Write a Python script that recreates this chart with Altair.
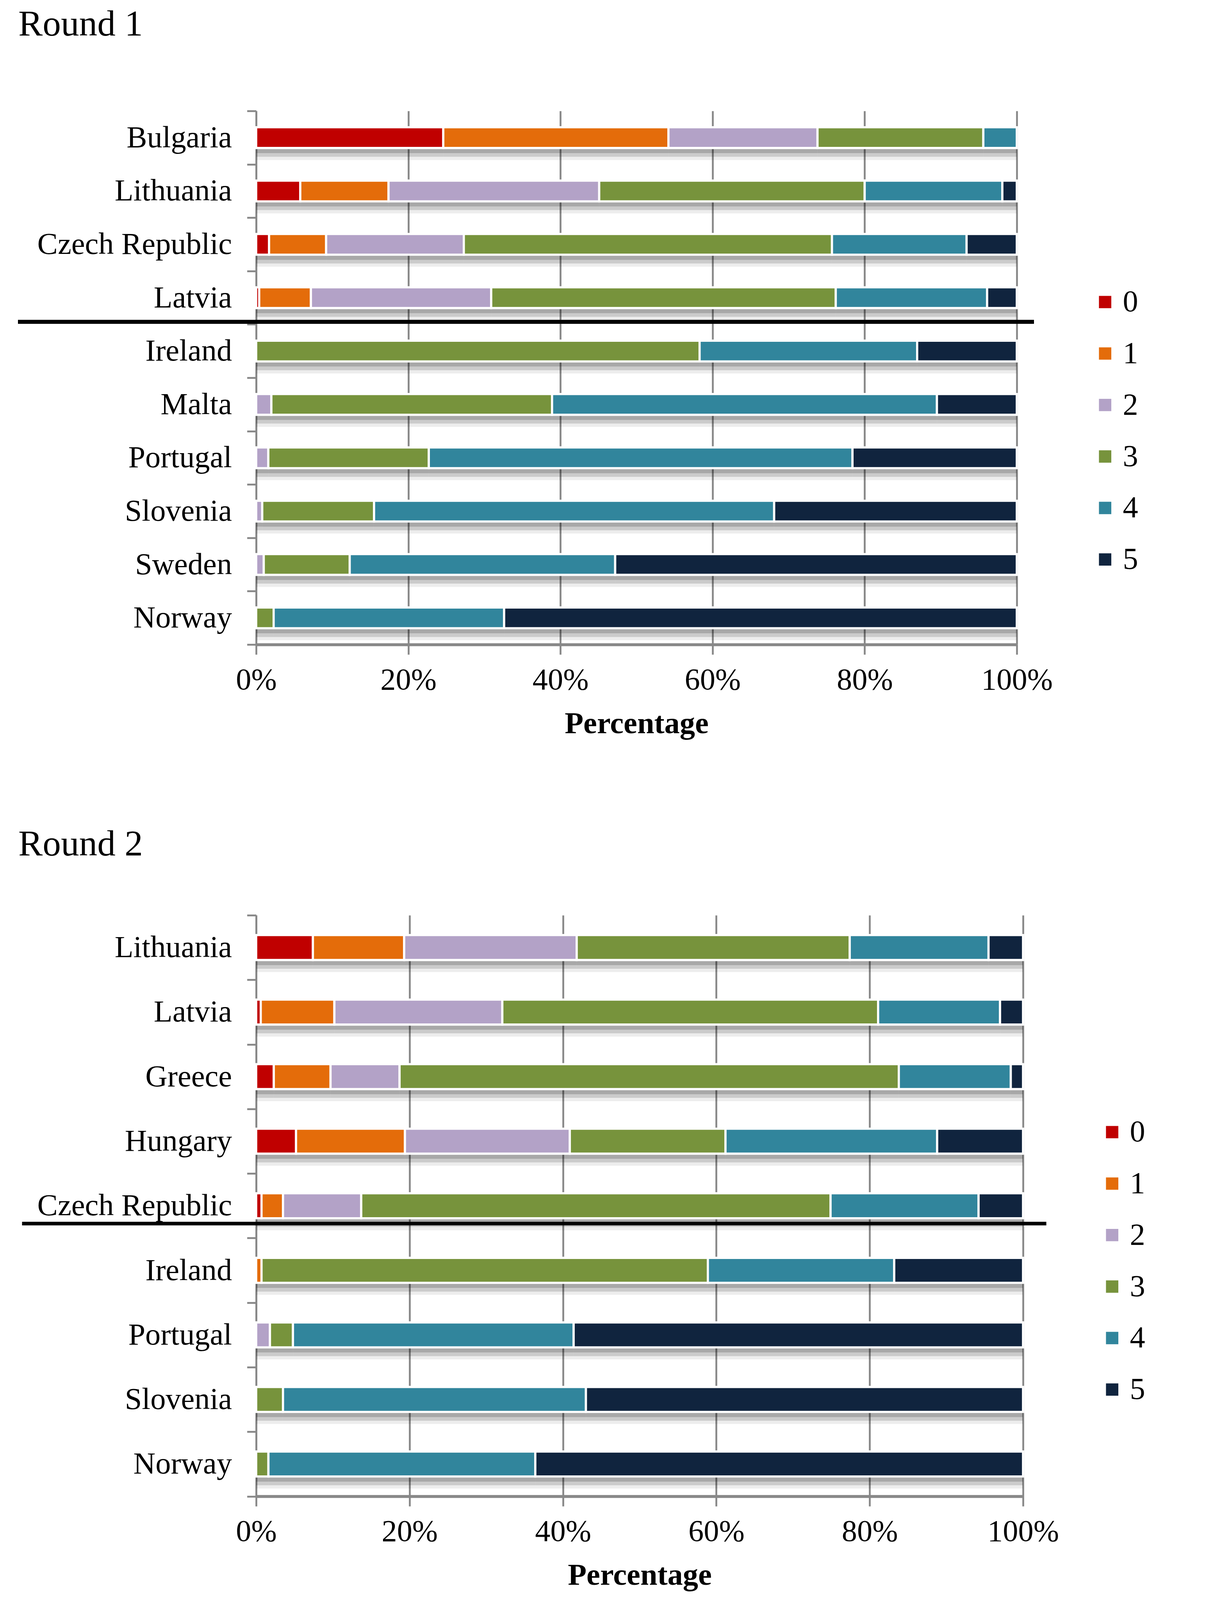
import altair as alt
import pandas as pd

FONT = "Liberation Serif"
GRAY = "#888888"

levels = ["0", "1", "2", "3", "4", "5"]
colors = ["#C00000", "#E46C0A", "#B3A2C7", "#77933C", "#31859C", "#10243E"]

# ---------------- Round 1 ----------------
countries1 = ["Bulgaria", "Lithuania", "Czech Republic", "Latvia", "Ireland",
              "Malta", "Portugal", "Slovenia", "Sweden", "Norway"]
r1_l0 = [24.6, 5.8, 1.7, 0.4, 0, 0, 0, 0, 0, 0]
r1_l1 = [29.6, 11.6, 7.5, 6.8, 0, 0, 0, 0, 0, 0]
r1_l2 = [19.6, 27.7, 18.1, 23.7, 0, 2.0, 1.6, 0.8, 1.0, 0]
r1_l3 = [21.8, 34.9, 48.4, 45.3, 58.3, 36.9, 21.1, 14.7, 11.3, 2.3]
r1_l4 = [4.4, 18.1, 17.7, 19.9, 28.6, 50.6, 55.7, 52.6, 34.9, 30.3]
r1_l5 = [0, 1.9, 6.6, 3.9, 13.1, 10.5, 21.6, 31.9, 52.8, 67.4]

# ---------------- Round 2 ----------------
countries2 = ["Lithuania", "Latvia", "Greece", "Hungary", "Czech Republic",
              "Ireland", "Portugal", "Slovenia", "Norway"]
r2_l0 = [7.4, 0.6, 2.3, 5.2, 0.7, 0, 0, 0, 0]
r2_l1 = [11.9, 9.6, 7.4, 14.2, 2.8, 0.7, 0, 0, 0]
r2_l2 = [22.5, 21.9, 9.0, 21.5, 10.2, 0, 1.8, 0, 0]
r2_l3 = [35.6, 49.0, 65.1, 20.3, 61.2, 58.2, 3.0, 3.5, 1.6]
r2_l4 = [18.1, 15.9, 14.6, 27.6, 19.3, 24.3, 36.6, 39.5, 34.8]
r2_l5 = [4.5, 3.0, 1.6, 11.2, 5.8, 16.8, 58.6, 57.0, 63.6]

x_ticks = [0, 20, 40, 60, 80, 100]

FS = 78.4        # axis / legend text size
TFS = 93.3       # panel title size


def build_df(countries, series):
    rows = []
    for lev, vals in zip(levels, series):
        for c, v in zip(countries, vals):
            if v > 0:
                rows.append({"country": c, "level": lev, "levnum": int(lev), "value": v})
    return pd.DataFrame(rows)


def round_chart(title, title_x, title_y, countries, series, w, h, bar_size,
                sep_country, sep_offset, sep_x1, sep_x2, sep_width, legend_x, legend_y):
    df = build_df(countries, series)
    yscale = alt.Scale(domain=countries, paddingInner=0, paddingOuter=0)
    yaxis = alt.Axis(title=None, tickBand="extent", ticks=True, tickSize=23.4, tickWidth=4.7,
                     tickColor=GRAY, domainColor=GRAY, domainWidth=4.7, grid=False,
                     labelFont=FONT, labelFontSize=FS, labelColor="black",
                     labelPadding=39, labelLimit=0)
    xscale = alt.Scale(domain=[0, 100], nice=False)
    xaxis = alt.Axis(values=x_ticks, labelExpr="datum.value + '%'", grid=True,
                     gridColor=GRAY, gridWidth=4.7, tickSize=25.4, tickWidth=4.7,
                     tickColor=GRAY, domainColor=GRAY, domainWidth=7.5,
                     labelFont=FONT, labelFontSize=FS, labelColor="black",
                     labelPadding=27, labelFlush=False, labelOverlap=False,
                     labelLimit=0,
                     title="Percentage", titleFont=FONT, titleFontSize=FS,
                     titleFontWeight="bold", titleColor="black",
                     titleBaseline="alphabetic", titleY=226, titleLimit=0)

    y = alt.Y("country:N", scale=yscale, axis=yaxis)
    x = alt.X("value:Q", stack="zero", scale=xscale, axis=xaxis)
    order = alt.Order("levnum:Q", sort="ascending")

    base = alt.Chart(df)
    shadows = []
    for off, op in [(30.8, 0.07), (22.4, 0.14), (13.1, 0.167)]:
        shadows.append(
            base.mark_bar(color="black", opacity=op, size=bar_size, yOffset=off)
            .encode(x=x, y=y, detail="level:N", order=order)
        )
    bars = base.mark_bar(size=bar_size, stroke="white", strokeWidth=5.6).encode(
        x=x, y=y, order=order,
        color=alt.Color("level:N",
                        scale=alt.Scale(domain=levels, range=colors),
                        legend=alt.Legend(title=None, orient="none",
                                          legendX=legend_x, legendY=legend_y,
                                          symbolType="square", symbolSize=1000,
                                          symbolStrokeWidth=0, labelFont=FONT,
                                          labelFontSize=FS, labelColor="black",
                                          labelOffset=6, rowPadding=52.8,
                                          padding=0, labelLimit=0)),
    )
    sep_df = pd.DataFrame({"country": [sep_country]})
    sep = alt.Chart(sep_df).mark_rule(color="black", strokeWidth=sep_width,
                                      yOffset=sep_offset).encode(
        y=alt.Y("country:N", scale=yscale, axis=yaxis, bandPosition=0),
        x=alt.value(sep_x1), x2=alt.value(sep_x2),
    )
    title_df = pd.DataFrame({"t": [title]})
    ttl = alt.Chart(title_df).mark_text(align="left", baseline="alphabetic",
                                        font=FONT, fontSize=TFS, color="black").encode(
        text="t:N", x=alt.value(title_x), y=alt.value(title_y),
    )
    return alt.layer(*shadows, bars, sep, ttl).properties(width=w, height=h)


c1 = round_chart("Round 1", -609, -193, countries1,
                 [r1_l0, r1_l1, r1_l2, r1_l3, r1_l4, r1_l5],
                 1948, 1366, 53.1, "Ireland", -6.5, -610, 1992, 10.2,
                 2135, 450)
c2 = round_chart("Round 2", -609, -153, countries2,
                 [r2_l0, r2_l1, r2_l2, r2_l3, r2_l4, r2_l5],
                 1964, 1487.5, 63.9, "Ireland", -37, -599.5, 2023.6, 9.4,
                 2153, 516)

chart = alt.vconcat(c1, c2, spacing=223).resolve_scale(
    color="independent").resolve_legend(color="independent").properties(
    padding={"left": 32, "top": 8, "right": 20, "bottom": 5}
).configure(font=FONT).configure_view(stroke=None)

chart.save("out.html", embed_options={"renderer": "svg", "actions": False})
